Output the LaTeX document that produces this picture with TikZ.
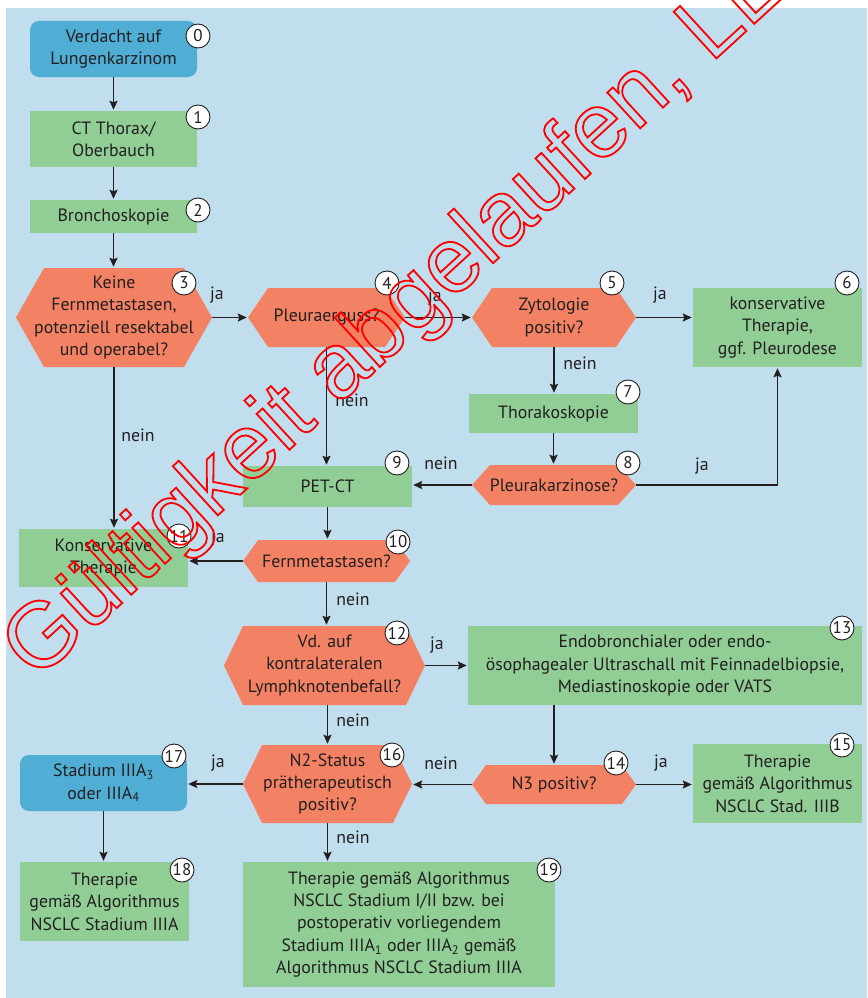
\documentclass[tikz,border=0pt]{standalone}
\usepackage{fontspec}
\setmainfont{PT Sans}
\newfontfamily\stampfont{Liberation Sans}
\usetikzlibrary{arrows.meta}
\definecolor{bgblue}{RGB}{193,222,238}
\definecolor{startblue}{RGB}{80,174,212}
\definecolor{stepgreen}{RGB}{144,206,149}
\definecolor{askorange}{RGB}{243,130,100}
\definecolor{ink}{RGB}{35,31,32}
% outline text for the stamp
\def\StrokeOn{\special{pdf:literal direct 1 Tr 1.8 w}}
\def\StrokeOff{\special{pdf:literal direct 0 Tr}}
\tikzset{
  stepbox/.style={rectangle, fill=stepgreen, inner sep=0pt, align=center, text=ink},
  startbox/.style={stepbox, fill=startblue, rounded corners=9pt},
  askbox/.style={rectangle, inner sep=0pt, align=center, text=ink,
    path picture={
      \fill[askorange] (path picture bounding box.west)
        -- ([xshift=#1]path picture bounding box.north west)
        -- ([xshift=-#1]path picture bounding box.north east)
        -- (path picture bounding box.east)
        -- ([xshift=-#1]path picture bounding box.south east)
        -- ([xshift=#1]path picture bounding box.south west) -- cycle;}},
  askbox/.default=20pt,
  num/.style={circle, draw=ink, line width=0.9pt, fill=white, inner sep=0pt,
    minimum size=24pt, text=ink, font=\fontsize{17}{17}\selectfont},
  lbl/.style={inner sep=0pt, text=ink},
  arr/.style={draw=ink, line width=1.8pt, shorten >=1pt,
    -{Stealth[length=9pt,width=8pt,inset=1.5pt]}},
  stamp/.style={inner sep=0pt, text=red, font=\stampfont\fontsize{92}{92}\selectfont}
}
\begin{document}
\begin{tikzpicture}[x=1pt, y=-1pt, font=\fontsize{17.8}{22.3}\selectfont]
  \useasboundingbox (0,0) rectangle (867,998);
  \fill[bgblue] (6,8) rectangle (867,998);

  % boxes
  \node[startbox, minimum width=167pt, minimum height=56pt] (n0) at (113.5,49) {Verdacht auf\\Lungenkarzinom};
  \node[stepbox, minimum width=167pt, minimum height=56pt] (n1) at (113.5,139) {CT Thorax/\\Oberbauch};
  \node[stepbox, minimum width=167pt, minimum height=33pt] (n2) at (113.5,216.5) {Bronchoskopie};
  \node[askbox=28pt, minimum width=196pt, minimum height=99pt] (n3) at (114,317.5) {Keine\\Fernmetastasen,\\potenziell resektabel\\und operabel?};
  \node[askbox, minimum width=157pt, minimum height=59pt] (n4) at (326.5,317.5) {Pleuraerguss?};
  \node[askbox, minimum width=164pt, minimum height=59pt] (n5) at (554,317.5) {Zytologie\\positiv?};
  \node[stepbox, minimum width=169pt, minimum height=79pt] (n6) at (777.5,327.5) {konservative\\Therapie,\\ggf. Pleurodese};
  \node[stepbox, minimum width=169pt, minimum height=39pt] (n7) at (553.5,413.5) {Thorakoskopie};
  \node[askbox=18pt, minimum width=164pt, minimum height=40pt] (n8) at (554,485) {Pleurakarzinose?};
  \node[stepbox, minimum width=169pt, minimum height=41pt] (n9) at (327.5,486.5) {PET-CT};
  \node[askbox=15pt, minimum width=167pt, minimum height=42pt] (n10) at (326.5,561) {Fernmetastasen?};
  \node[stepbox, minimum width=169pt, minimum height=58pt] (n11) at (103.5,558) {Konservative\\Therapie};
  \node[askbox=19pt, minimum width=201pt, minimum height=79pt] (n12) at (324.5,665.5) {Vd. auf\\kontralateralen\\Lymphknotenbefall?};
  \node[stepbox, minimum width=394pt, minimum height=79pt] (n13) at (665,665.5) {Endobronchialer oder endo-\\ösophagealer Ultraschall mit Feinnadelbiopsie,\\Mediastinoskopie oder VATS};
  \node[askbox=14pt, minimum width=164pt, minimum height=39pt] (n14) at (554,784.5) {N3 positiv?};
  \node[stepbox, minimum width=169pt, minimum height=79pt] (n15) at (777.5,783.5) {Therapie\\gemäß Algorithmus\\NSCLC Stad. IIIB};
  \node[askbox=19pt, minimum width=169pt, minimum height=78pt] (n16) at (327.5,784) {N2-Status\\prätherapeutisch\\positiv?};
  \node[startbox, minimum width=167pt, minimum height=56pt] (n17) at (103.5,783) {Stadium IIIA\textsubscript{3}\\oder IIIA\textsubscript{4}};
  \node[stepbox, minimum width=169pt, minimum height=79pt] (n18) at (104.5,901.5) {Therapie\\gemäß Algorithmus\\NSCLC Stadium IIIA};
  \node[stepbox, minimum width=312pt, minimum height=125pt] (n19) at (399,924.5) {Therapie gemäß Algorithmus\\NSCLC Stadium I/II bzw. bei\\postoperativ vorliegendem\\Stadium IIIA\textsubscript{1} oder IIIA\textsubscript{2} gemäß\\Algorithmus NSCLC Stadium IIIA};

  % connectors
  \draw[arr] (n0) -- (n1);
  \draw[arr] (n1) -- (n2);
  \draw[arr] (n2.south) -- (n2.south |- n3.north);
  \draw[arr] (n3.east) -- (n4.west);
  \draw[arr] (n4.east) -- (n5.west);
  \draw[arr] (n5.east) -- (n5.east -| n6.west);
  \draw[arr] (n5.south) -- (n5.south |- n7.north);
  \draw[arr] (n7.south) -- (n7.south |- n8.north);
  \draw[arr] (n8.east) -| (n6.south);
  \draw[arr] (n8.west) -- (n8.west -| n9.east);
  \draw[arr] (n4.south) -- (n4.south |- n9.north);
  \draw[arr] (n3.south) -- (n3.south |- n11.north);
  \draw[arr] (n9.south) -- (n9.south |- n10.north);
  \draw[arr] (n10.west) -- (n10.west -| n11.east);
  \draw[arr] (n10.south) -- (n10.south |- n12.north);
  \draw[arr] (n12.east) -- (n12.east -| n13.west);
  \draw[arr] (n16 |- n12.south) -- (n16.north);
  \draw[arr] (n14 |- n13.south) -- (n14.north);
  \draw[arr] (n14.west) -- (n14.west -| n16.east);
  \draw[arr] (n14.east) -- (n14.east -| n15.west);
  \draw[arr] (n16.west) -- (n16.west -| n17.east);
  \draw[arr] (n17.south) -- (n17.south |- n18.north);
  \draw[arr] (n16.south) -- (n16.south |- n19.north);

  % ja / nein
  \node[lbl] (y3) at (217,295) {ja};
  \node[lbl] (y4) at (435,297) {ja};
  \node[lbl] (y5) at (660,295) {ja};
  \node[lbl] (no3) at (138,435) {nein};
  \node[lbl] (no4) at (352,400) {nein};
  \node[lbl] (no5) at (580,363) {nein};
  \node[lbl] (y8) at (702,466) {ja};
  \node[lbl] (no8) at (441,463) {nein};
  \node[lbl] (y10) at (218,538) {ja};
  \node[lbl] (no10) at (353,599) {nein};
  \node[lbl] (y12) at (437,645) {ja};
  \node[lbl] (no12) at (353,720) {nein};
  \node[lbl] (no14) at (441,763) {nein};
  \node[lbl] (y14) at (661,763) {ja};
  \node[lbl] (y16) at (218,763) {ja};
  \node[lbl] (no16) at (353,837) {nein};

  % numbers
  \node[num] (b0) at (198,36) {0};
  \node[num] (b1) at (198,117) {1};
  \node[num] (b2) at (198,210) {2};
  \node[num] (b3) at (184,283) {3};
  \node[num] (b4) at (387,283) {4};
  \node[num] (b5) at (612,283) {5};
  \node[num] (b6) at (847,283) {6};
  \node[num] (b7) at (628,392) {7};
  \node[num] (b8) at (628,463) {8};
  \node[num] (b9) at (397,463) {9};
  \node[num] (b10) at (398,542) {10};
  \node[num] (b11) at (179,536) {11};
  \node[num] (b12) at (397,633) {12};
  \node[num] (b13) at (842,628) {13};
  \node[num] (b14) at (616,763) {14};
  \node[num] (b15) at (842,745) {15};
  \node[num] (b16) at (392,755) {16};
  \node[num] (b17) at (174,756) {17};
  \node[num] (b18) at (182,870) {18};
  \node[num] (b19) at (549,870) {19};

  % stamp
  \node[stamp, rotate=42.5, anchor=base west] (wm) at (36,682) {\StrokeOn Gültigkeit abgelaufen, LL\StrokeOff};
\end{tikzpicture}
\end{document}
